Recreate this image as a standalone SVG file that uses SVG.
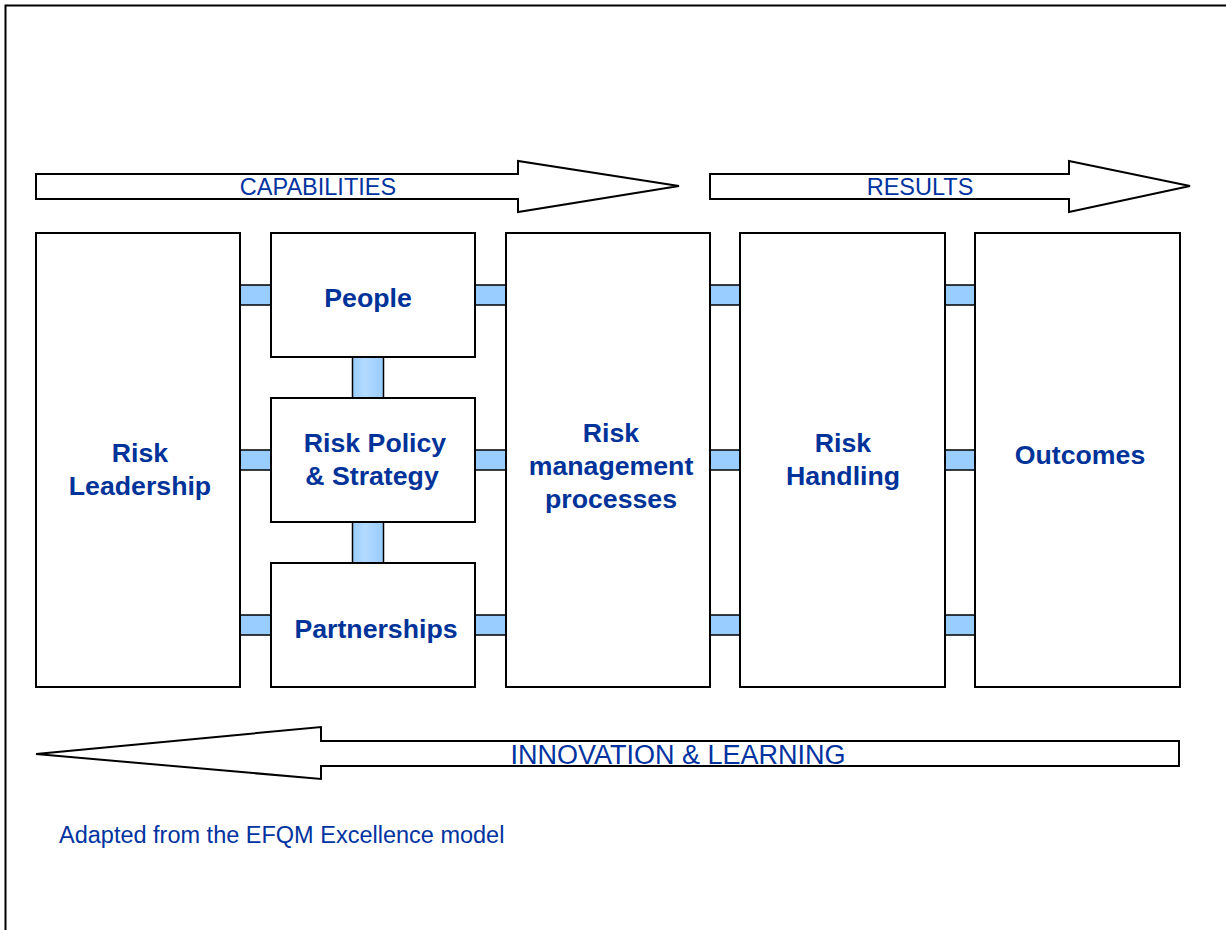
<svg xmlns="http://www.w3.org/2000/svg" width="1226" height="930" viewBox="0 0 1226 930">
<defs>
<linearGradient id="vg" x1="0" y1="0" x2="1" y2="0">
<stop offset="0" stop-color="#99CCFF"/>
<stop offset="0.4" stop-color="#B3DAFF"/>
<stop offset="1" stop-color="#99CCFF"/>
</linearGradient>
<style>
.box{fill:#fff;stroke:#000;stroke-width:2}
.arr{fill:#fff;stroke:#000;stroke-width:2;stroke-linejoin:miter}
.hc{fill:#99CCFF;stroke:#000;stroke-width:1.5}
.vc{fill:url(#vg);stroke:#000;stroke-width:1.5}
.lbl{font-family:"Liberation Sans",Arial,sans-serif;font-weight:bold;font-size:26.7px;fill:#003399;text-anchor:middle}
.reg{font-family:"Liberation Sans",Arial,sans-serif;font-size:23.5px;fill:#0033A0}
</style>
</defs>
<rect x="0" y="0" width="1226" height="930" fill="#fff"/>
<rect x="5.5" y="5.5" width="1240" height="940" fill="none" stroke="#000" stroke-width="2"/>

<g id="arrow-capabilities">
<polygon class="arr" points="36,174 518,174 518,161 679,186 518,212 518,199 36,199"/>
<text class="reg" x="318" y="195" text-anchor="middle">CAPABILITIES</text>
</g>
<g id="arrow-results">
<polygon class="arr" points="710,174 1069,174 1069,161 1190,186 1069,212 1069,199 710,199"/>
<text class="reg" x="920" y="195" text-anchor="middle">RESULTS</text>
</g>
<g id="arrow-innovation">
<polygon class="arr" points="1179,741 321,741 321,727 36,754 321,779 321,766 1179,766"/>
<text class="reg" x="678" y="764" text-anchor="middle" style="font-size:27px">INNOVATION &amp; LEARNING</text>
</g>

<g id="connectors">
<rect class="hc" x="240" y="285" width="31" height="20"/>
<rect class="hc" x="240" y="450" width="31" height="20"/>
<rect class="hc" x="240" y="615" width="31" height="20"/>
<rect class="hc" x="475" y="285" width="31" height="20"/>
<rect class="hc" x="475" y="450" width="31" height="20"/>
<rect class="hc" x="475" y="615" width="31" height="20"/>
<rect class="hc" x="710" y="285" width="30" height="20"/>
<rect class="hc" x="710" y="450" width="30" height="20"/>
<rect class="hc" x="710" y="615" width="30" height="20"/>
<rect class="hc" x="945" y="285" width="30" height="20"/>
<rect class="hc" x="945" y="450" width="30" height="20"/>
<rect class="hc" x="945" y="615" width="30" height="20"/>
<rect class="vc" x="352.5" y="357" width="31" height="41"/>
<rect class="vc" x="352.5" y="522" width="31" height="41"/>
</g>

<g id="node-risk-leadership">
<rect class="box" x="36" y="233" width="204" height="454"/>
<text class="lbl" x="140" y="462">Risk</text>
<text class="lbl" x="140" y="495">Leadership</text>
</g>
<g id="node-people">
<rect class="box" x="271" y="233" width="204" height="124"/>
<text class="lbl" x="368" y="307">People</text>
</g>
<g id="node-risk-policy">
<rect class="box" x="271" y="398" width="204" height="124"/>
<text class="lbl" x="375" y="452">Risk Policy</text>
<text class="lbl" x="372" y="485">&amp; Strategy</text>
</g>
<g id="node-partnerships">
<rect class="box" x="271" y="563" width="204" height="124"/>
<text class="lbl" x="376" y="638">Partnerships</text>
</g>
<g id="node-risk-management">
<rect class="box" x="506" y="233" width="204" height="454"/>
<text class="lbl" x="611" y="442">Risk</text>
<text class="lbl" x="611" y="475">management</text>
<text class="lbl" x="611" y="508">processes</text>
</g>
<g id="node-risk-handling">
<rect class="box" x="740" y="233" width="205" height="454"/>
<text class="lbl" x="843" y="452">Risk</text>
<text class="lbl" x="843" y="485">Handling</text>
</g>
<g id="node-outcomes">
<rect class="box" x="975" y="233" width="205" height="454"/>
<text class="lbl" x="1080" y="464">Outcomes</text>
</g>

<text class="reg" x="59" y="843">Adapted from the EFQM Excellence model</text>
</svg>
